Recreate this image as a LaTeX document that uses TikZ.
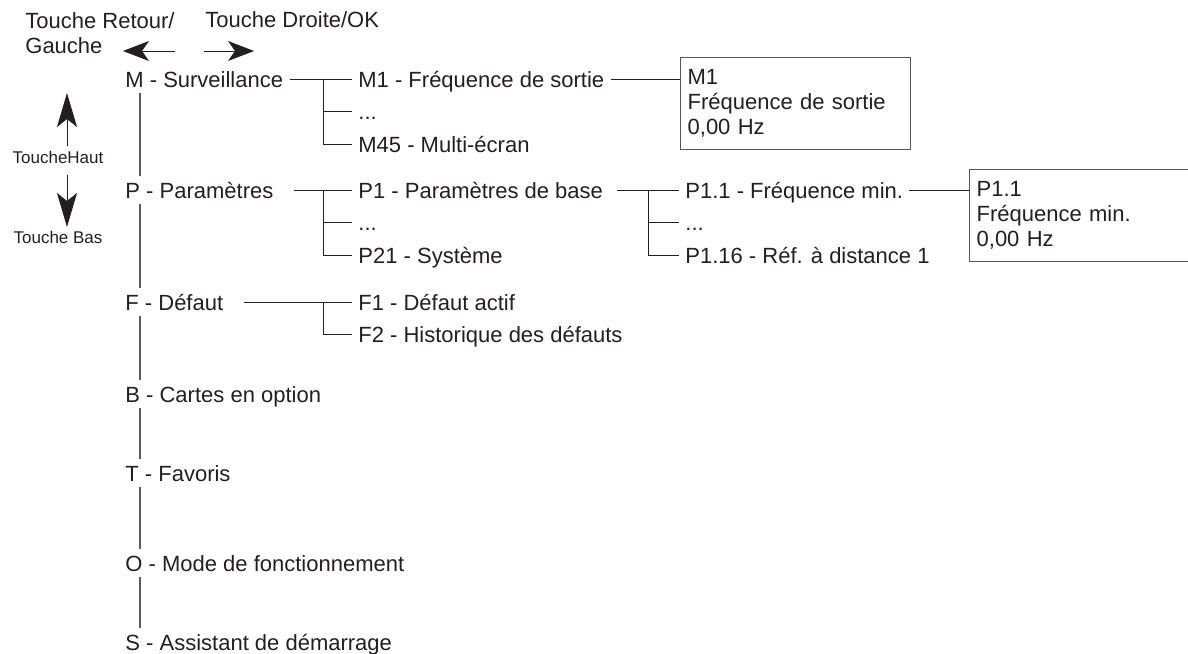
\documentclass[tikz,border=0pt]{standalone}
\usepackage{fontspec}
\setmainfont{Liberation Sans}
\usetikzlibrary{positioning,arrows.meta}
\definecolor{inkblack}{HTML}{231F20}
\definecolor{trunkgray}{HTML}{5A5A5A}
\definecolor{boxgray}{HTML}{555555}

\begin{document}
\begin{tikzpicture}[x=0.5pt,y=-0.5pt,
	every node/.style={text=inkblack,font=\fontsize{11}{12.5}\selectfont},
	item/.style={anchor=west,inner xsep=3pt,inner ysep=1pt,text height=10pt,text depth=2pt},
	sub/.style={item},
	keylabel/.style={font=\fontsize{8.5}{10}\selectfont,inner xsep=0pt,inner ysep=1pt,text height=7.6pt,text depth=1.5pt},
	screen/.style={rectangle,draw=boxgray,line width=0.65pt,anchor=north west,align=left,inner xsep=3.5pt,minimum height=46pt},
	tline/.style={draw=trunkgray,line width=1.1pt},
	bline/.style={draw=inkblack,line width=0.5pt},
	keyarrow/.style={draw=inkblack,line width=0.5pt,-{Stealth[length=13pt,width=10pt,inset=3.5pt]}},
	tallarrow/.style={keyarrow,-{Stealth[length=17pt,width=10pt,inset=4pt]}},
	node distance=2pt]
	\useasboundingbox (0,0) rectangle (1188,653);
	\coordinate (trunk) at (140,0);
	\coordinate (mBranch) at (323,0);
	\coordinate (pBranch) at (648,0);
	\coordinate (upTip) at (67,93);
	\coordinate (downTip) at (67,227);
	\coordinate (backFrom) at (175,51);
	\coordinate (backTip) at (123,51);
	\coordinate (okFrom) at (204,51);
	\coordinate (okTip) at (254,51);
	\node (keyBack)[anchor=west,align=left,inner sep=0pt] at (25,33) {Touche Retour/\\Gauche};
	\node (keyOk)[anchor=west,inner sep=0pt] at (205,20) {Touche Droite/OK};
	\node[keylabel] (keyUp) at (58,157) {ToucheHaut};
	\node[keylabel] (keyDown) at (58,237) {Touche Bas};
	\node[item] (mSurv) at (119,79) {M - Surveillance};
	\node[item] (pParam) at (119,190) {P - Paramètres};
	\node[item] (fDef) at (119,302) {F - Défaut};
	\node[item] (bCart) at (119,394) {B - Cartes en option};
	\node[item] (tFav) at (119,473) {T - Favoris};
	\node[item] (oMode) at (119,563) {O - Mode de fonctionnement};
	\node[item] (sAssist) at (119,642) {S - Assistant de démarrage};
	\node[sub] (m1) at (352,79) {M1 - Fréquence de sortie};
	\node[sub] (mDots)[below=of m1.south west,anchor=north west] {...};
	\node[sub] (m45)[below=of mDots.south west,anchor=north west] {M45 - Multi-écran};
	\node[sub] (p1) at (352,190) {P1 - Paramètres de base};
	\node[sub] (pDots)[below=of p1.south west,anchor=north west] {...};
	\node[sub] (p21)[below=of pDots.south west,anchor=north west] {P21 - Système};
	\node[sub] (p11) at (679,190) {P1.1 - Fréquence min.};
	\node[sub] (p1Dots)[below=of p11.south west,anchor=north west] {...};
	\node[sub] (p116)[below=of p1Dots.south west,anchor=north west] {P1.16 - Réf. à distance 1};
	\node[sub] (f1) at (352,302) {F1 - Défaut actif};
	\node[sub] (f2)[below=of f1.south west,anchor=north west] {F2 - Historique des défauts};
	\node[screen,text width=108pt] (m1Screen) at (680,57) {M1\\Fréquence de sortie\\0,00 Hz};
	\node[screen,text width=114pt] (p11Screen) at (969,169) {P1.1\\Fréquence min.\\0,00 Hz};
	\foreach \a/\b in {mSurv/pParam,pParam/fDef,fDef/bCart,bCart/tFav,tFav/oMode,oMode/sAssist}
		\draw[tline] (\a.south -| trunk) -- (\b.north -| trunk);
	\draw[bline] (mSurv.east) -- (m1.west);
	\draw[bline] (mSurv.east -| mBranch) |- (mDots.west);
	\draw[bline] (mSurv.east -| mBranch) |- (m45.west);
	\draw[bline] (m1.east) -- (m1.east -| m1Screen.west);
	\draw[bline,shorten <=7pt] (pParam.east) -- (p1.west);
	\draw[bline] (pParam.east -| mBranch) |- (pDots.west);
	\draw[bline] (pParam.east -| mBranch) |- (p21.west);
	\draw[bline,shorten <=4pt] (p1.east) -- (p11.west);
	\draw[bline] (p1.east -| pBranch) |- (p1Dots.west);
	\draw[bline] (p1.east -| pBranch) |- (p116.west);
	\draw[bline] (p11.east) -- (p11.east -| p11Screen.west);
	\draw[bline,shorten <=7pt] (fDef.east) -- (f1.west);
	\draw[bline] (fDef.east -| mBranch) |- (f2.west);
	\draw[keyarrow] (backFrom) -- (backTip);
	\draw[keyarrow] (okFrom) -- (okTip);
	\draw[tallarrow] (keyUp.north -| upTip) -- (upTip);
	\draw[tallarrow,shorten <=3pt] (keyUp.south -| downTip) -- (downTip);
\end{tikzpicture}
\end{document}
